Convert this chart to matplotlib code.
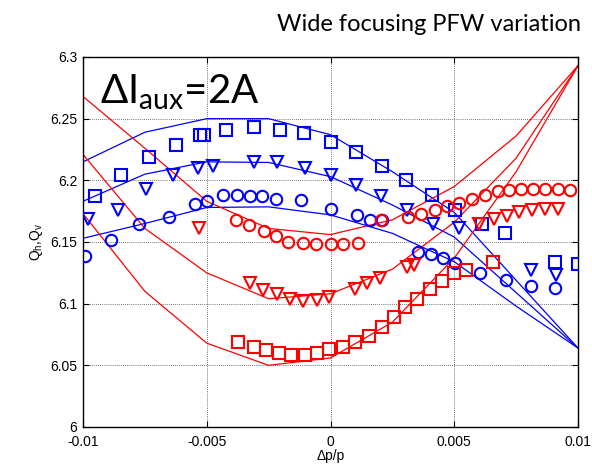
import matplotlib
matplotlib.use("Agg")
import matplotlib.pyplot as plt

# ---- model curves (lines) ----
model_x = [-0.01, -0.0075, -0.005, -0.0025, 0.0, 0.0025, 0.005, 0.0075, 0.01]
blue_line1 = [6.215, 6.239, 6.250, 6.250, 6.237, 6.207, 6.174, 6.119, 6.064]
blue_line2 = [6.183, 6.205, 6.215, 6.2145, 6.203, 6.180, 6.154, 6.109, 6.064]
blue_line3 = [6.153, 6.165, 6.178, 6.1785, 6.172, 6.157, 6.134, 6.098, 6.064]
red_line1 = [6.268, 6.226, 6.183, 6.161, 6.156, 6.168, 6.195, 6.236, 6.293]
red_line2 = [6.221, 6.161, 6.125, 6.104, 6.108, 6.128, 6.166, 6.218, 6.293]
red_line3 = [6.173, 6.110, 6.068, 6.050, 6.056, 6.085, 6.137, 6.207, 6.293]

# ---- measured points ----
bsq_x = [-0.00953, -0.00845, -0.00735, -0.00626, -0.00529, -0.0051, -0.00423, -0.00311,
         -0.00203, -0.00109, 0.0, 0.00105, 0.0021, 0.00307, 0.00409, 0.00503, 0.00613,
         0.00707, 0.00908, 0.01]
bsq_y = [6.187, 6.204, 6.219, 6.229, 6.237, 6.237, 6.241, 6.243, 6.241, 6.238, 6.231,
         6.223, 6.212, 6.200, 6.188, 6.176, 6.165, 6.157, 6.134, 6.132]

btr_x = [-0.00979, -0.00857, -0.00747, -0.00635, -0.00534, -0.00473, -0.00311, -0.00217,
         -0.00105, 0.0, 0.00105, 0.00206, 0.00311, 0.00415, 0.00518, 0.00812, 0.00913]
btr_y = [6.169, 6.176, 6.193, 6.204, 6.210, 6.212, 6.215, 6.2145, 6.210, 6.204, 6.196,
         6.187, 6.176, 6.165, 6.161, 6.127, 6.123]

bci_x = [-0.00993, -0.00885, -0.00774, -0.00652, -0.00548, -0.005, -0.00433, -0.00376,
         -0.00327, -0.00275, -0.0022, -0.0012, 0.0, 0.00106, 0.0016, 0.00207, 0.00354,
         0.00408, 0.00455, 0.00503, 0.00605, 0.00708, 0.00811, 0.00908]
bci_y = [6.139, 6.152, 6.165, 6.170, 6.181, 6.183, 6.188, 6.188, 6.187, 6.187, 6.185,
         6.184, 6.177, 6.172, 6.168, 6.168, 6.142, 6.140, 6.137, 6.133, 6.1245, 6.119,
         6.114, 6.113]

rci_x = [-0.0038, -0.0033, -0.0027, -0.0022, -0.0017, -0.0011, -0.0006, 0.0, 0.0005,
         0.0011, 0.00206, 0.00314, 0.00367, 0.00422, 0.00469, 0.00518, 0.00572, 0.00625,
         0.00675, 0.0072, 0.0077, 0.0082, 0.00867, 0.00921, 0.00968]
rci_y = [6.168, 6.164, 6.159, 6.155, 6.150, 6.149, 6.148, 6.148, 6.148, 6.149, 6.168,
         6.170, 6.173, 6.176, 6.179, 6.182, 6.185, 6.188, 6.191, 6.192, 6.193, 6.193,
         6.193, 6.193, 6.192]

rtr_x = [-0.0053, -0.00325, -0.00271, -0.00217, -0.00164, -0.00112, -0.00056, -0.00006,
         0.001, 0.00147, 0.002, 0.00308, 0.00337, 0.00599, 0.0066, 0.00714, 0.00761,
         0.00815, 0.00865, 0.00919]
rtr_y = [6.161, 6.117, 6.111, 6.1075, 6.104, 6.102, 6.103, 6.1055, 6.1116, 6.117, 6.1205,
         6.130, 6.131, 6.165, 6.169, 6.171, 6.174, 6.176, 6.177, 6.177]

rsq_x = [-0.00372, -0.00311, -0.00261, -0.0021, -0.00158, -0.00105, -0.00054, -0.00005,
         0.00052, 0.001, 0.00154, 0.00207, 0.00257, 0.00302, 0.00349, 0.004, 0.0045,
         0.005, 0.00547, 0.00655]
rsq_y = [6.069, 6.065, 6.0625, 6.060, 6.058, 6.058, 6.060, 6.063, 6.065, 6.069, 6.0737,
         6.081, 6.089, 6.097, 6.104, 6.1116, 6.1186, 6.1245, 6.127, 6.134]

x_ticks = [-0.01, -0.005, 0, 0.005, 0.01]
x_ticklabels = ["-0.01", "-0.005", "0", "0.005", "0.01"]
y_ticks = [6.0, 6.05, 6.1, 6.15, 6.2, 6.25, 6.3]
y_ticklabels = ["6", "6.05", "6.1", "6.15", "6.2", "6.25", "6.3"]

plt.rcParams['font.family'] = ['Liberation Sans', 'DejaVu Sans']

fig = plt.figure(figsize=(5.92, 4.67), dpi=100)
ax = fig.add_axes([83/592, 1-427/467, (578-83)/592, (427-57)/467])

BLUE = '#0000ff'
RED = '#ff0000'
lw = 0.9
for yy in (blue_line1, blue_line2, blue_line3):
    ax.plot(model_x, yy, color=BLUE, lw=lw, zorder=2)
for yy in (red_line1, red_line2, red_line3):
    ax.plot(model_x, yy, color=RED, lw=lw, zorder=2)

mk = dict(linestyle='none', markerfacecolor='none', markeredgewidth=1.5, zorder=3)
ax.plot(bsq_x, bsq_y, marker='s', markersize=8.2, markeredgecolor=BLUE, **mk)
ax.plot(btr_x, btr_y, marker='v', markersize=9.2, markeredgecolor=BLUE, **mk)
ax.plot(bci_x, bci_y, marker='o', markersize=8.2, markeredgecolor=BLUE, **mk)
ax.plot(rsq_x, rsq_y, marker='s', markersize=8.2, markeredgecolor=RED, **mk)
ax.plot(rtr_x, rtr_y, marker='v', markersize=9.2, markeredgecolor=RED, **mk)
ax.plot(rci_x, rci_y, marker='o', markersize=8.2, markeredgecolor=RED, **mk)

ax.set_xlim(-0.01, 0.01)
ax.set_ylim(6.0, 6.3)
ax.set_xticks(x_ticks)
ax.set_xticklabels(x_ticklabels)
ax.set_yticks(y_ticks)
ax.set_yticklabels(y_ticklabels)
ax.tick_params(direction='in', top=True, right=True, length=4, width=0.8,
               labelsize=10)
ax.tick_params(axis='x', pad=6)
ax.tick_params(axis='y', pad=4)
for t in ax.get_yticklabels():
    t.set_verticalalignment('center_baseline')
ax.grid(True, color='#444444', linestyle=(0, (1, 1.5)), linewidth=0.6)
for s in ax.spines.values():
    s.set_linewidth(1.0)
    s.set_color('black')

ax.set_xlabel('Δp/p', fontsize=10, labelpad=0)
ax.set_ylabel('Q$_\\mathregular{h}$,Q$_\\mathregular{v}$', fontsize=10, labelpad=4)

fig.text(0.982, 0.948, 'Wide focusing PFW variation', ha='right', va='center',
         fontsize=17, family=['Lato', 'DejaVu Sans'])
ax.text(0.034, 0.905, 'ΔI$_\\mathregular{aux}$=2A', transform=ax.transAxes,
        ha='left', va='center', fontsize=29, family=['Lato', 'DejaVu Sans'])

fig.savefig('out.png', dpi=100)
